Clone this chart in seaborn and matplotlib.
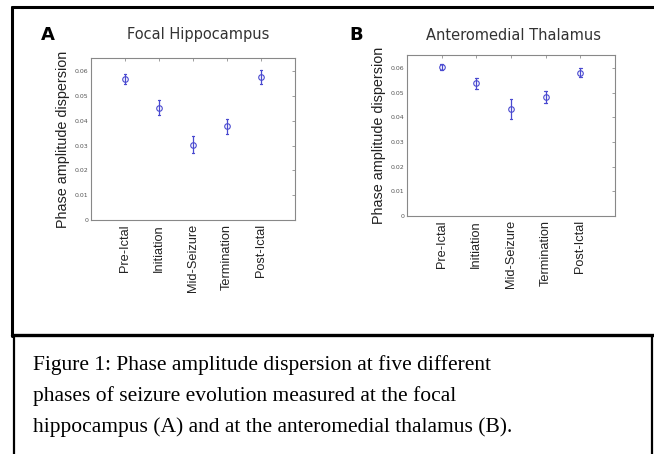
import numpy as np
import pandas as pd
import matplotlib
matplotlib.use("Agg")
import matplotlib.pyplot as plt
from matplotlib.lines import Line2D
import seaborn as sns

phases = ["Pre-Ictal", "Initiation", "Mid-Seizure", "Termination", "Post-Ictal"]

hippo_mean = [0.0568, 0.0453, 0.0304, 0.0377, 0.0575]
hippo_err = [0.0020, 0.0030, 0.0033, 0.0030, 0.0028]

thal_mean = [0.0605, 0.0538, 0.0434, 0.0482, 0.0582]
thal_err = [0.0012, 0.0022, 0.0039, 0.0025, 0.0020]

yticks = [0, 0.01, 0.02, 0.03, 0.04, 0.05, 0.06]
ytick_labels = ["0", "0.01", "0.02", "0.03", "0.04", "0.05", "0.06"]

caption = ("Figure 1: Phase amplitude dispersion at five different\n"
           "phases of seizure evolution measured at the focal\n"
           "hippocampus (A) and at the anteromedial thalamus (B).")

W, H = 654, 454


def fx(x):
    return x / W


def fy(y):
    return 1 - y / H


def long_table(means, errs):
    # two rows per phase (low / high end of the bar); mean of them is the centre
    rows = []
    for p, m, e in zip(phases, means, errs):
        rows.append({"phase": p, "value": m - e})
        rows.append({"phase": p, "value": m + e})
    return pd.DataFrame(rows)


sns.set_style("white")
fig = plt.figure(figsize=(6.54, 4.54), dpi=100)

panels = [
    (hippo_mean, hippo_err, (91, 58, 295, 220), "Focal Hippocampus", 198, "A", 48),
    (thal_mean, thal_err, (407, 55, 615, 216), "Anteromedial Thalamus", 513, "B", 356),
]

for means, errs, (x0, y0, x1, y1), title, tx, letter, lx in panels:
    ax = fig.add_axes([fx(x0), fy(y1), fx(x1 - x0), (y1 - y0) / H])
    df = long_table(means, errs)
    sns.pointplot(data=df, x="phase", y="value", order=phases,
                  estimator="mean", errorbar=lambda v: (v.min(), v.max()),
                  color="#4a4ad0", linestyle="none", marker="o",
                  markersize=4, markerfacecolor="none", markeredgewidth=0.8,
                  capsize=0.08, err_kws={"linewidth": 0.9}, ax=ax)
    ax.set_xlim(-1, 5)
    ax.set_ylim(0, 0.0653)
    ax.set_yticks(yticks)
    ax.set_yticklabels(ytick_labels)
    ax.set_xlabel("")
    ax.set_ylabel("Phase amplitude dispersion", fontsize=10.4,
                  family="Liberation Sans", color="#222222", labelpad=3)
    ax.tick_params(axis="y", labelsize=4.5, labelcolor="#555555",
                   direction="in", length=2.5, width=0.5, color="#777777",
                   right=True, pad=2)
    ax.tick_params(axis="x", labelsize=9.2, labelcolor="#222222",
                   direction="in", length=2.5, width=0.5, color="#777777",
                   top=True, rotation=90, pad=3)
    for lab in ax.get_xticklabels():
        lab.set_family("Liberation Sans")
    for s in ax.spines.values():
        s.set_color("#888888")
        s.set_linewidth(0.8)
    fig.text(fx(tx), fy(35), title, ha="center", va="center",
             fontsize=10.5, color="#333333", family="DejaVu Sans")
    fig.text(fx(lx), fy(35), letter, ha="center", va="center",
             fontsize=13, fontweight="bold", color="black", family="DejaVu Sans")

# frame round the figure and the caption box
frame = [
    ((12, 12), (7, 336), 2.2),
    ((12, 654), (7, 7), 2.2),
    ((12, 654), (335, 335), 2.4),
    ((14, 14), (336, 454), 1.6),
    ((652, 652), (336, 454), 1.6),
]
for xs, ys, lw in frame:
    fig.add_artist(Line2D([fx(xs[0]), fx(xs[1])], [fy(ys[0]), fy(ys[1])],
                          color="black", linewidth=lw, transform=fig.transFigure))

fig.text(fx(33), fy(396), caption, ha="left", va="center", fontsize=15.5,
         family="Liberation Serif", color="black", linespacing=1.75)

fig.savefig("out.png", dpi=100)
